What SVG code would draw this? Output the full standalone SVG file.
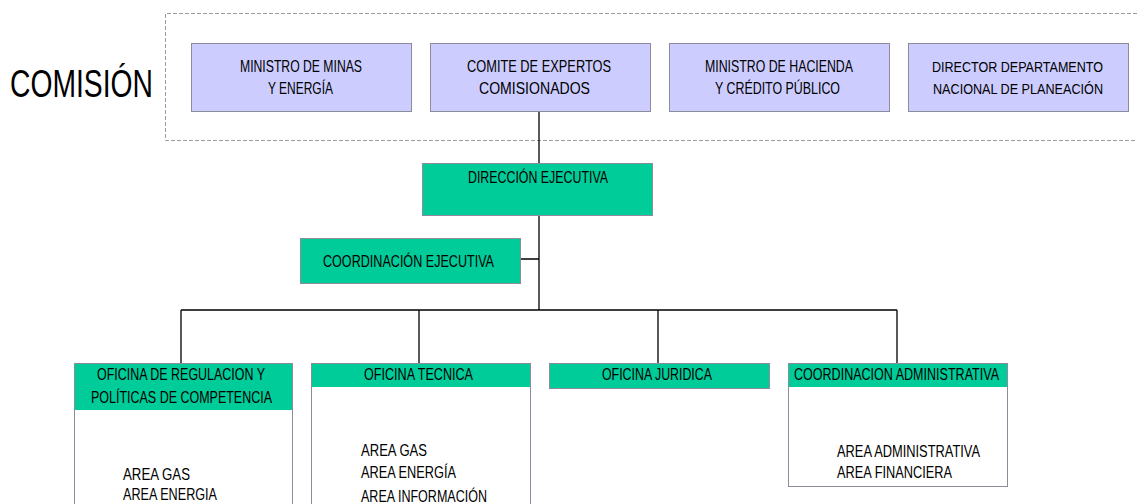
<svg xmlns="http://www.w3.org/2000/svg" width="1137" height="504" viewBox="0 0 1137 504">
<style>
text{font-family:"Liberation Sans",Arial,sans-serif;font-size:17px;fill:#000}
.s{font-size:15px}
.p{fill:#CCCCFF;stroke:#8c8c9c;stroke-width:1}
.g{fill:#00CC99;stroke:#8c8c9c;stroke-width:1}
.w{fill:#fff;stroke:#8c8c9c;stroke-width:1}
.c{fill:none;stroke:#000;stroke-width:1.3}
</style>
<rect width="1137" height="504" fill="#fff"/>
<path d="M1137 13.5H165.5V140.5H1137" fill="none" stroke="#9a9aa0" stroke-width="1" stroke-dasharray="4 2"/>
<text x="10" y="97" style="font-size:38px" textLength="143" lengthAdjust="spacingAndGlyphs">COMISIÓN</text>
<g id="connectors">
<path class="c" d="M539 111V310M520 259H539M181 310H897M181 310V363M419 310V363M658 310V363M897 310V363"/>
</g>
<g id="n1"><rect class="p" x="191.5" y="43.5" width="220" height="68"/>
<text x="240" y="72" textLength="122" lengthAdjust="spacingAndGlyphs">MINISTRO DE MINAS</text>
<text x="268" y="94" textLength="65" lengthAdjust="spacingAndGlyphs">Y ENERGÍA</text></g>
<g id="n2"><rect class="p" x="430.5" y="43.5" width="220" height="68"/>
<text x="467" y="72" textLength="144" lengthAdjust="spacingAndGlyphs">COMITE DE EXPERTOS</text>
<text x="479" y="94" textLength="111" lengthAdjust="spacingAndGlyphs">COMISIONADOS</text></g>
<g id="n3"><rect class="p" x="669.5" y="43.5" width="220" height="68"/>
<text x="705" y="72" textLength="148" lengthAdjust="spacingAndGlyphs">MINISTRO DE HACIENDA</text>
<text x="715" y="94" textLength="125" lengthAdjust="spacingAndGlyphs">Y CRÉDITO PÚBLICO</text></g>
<g id="n4"><rect class="p" x="908.5" y="43.5" width="220" height="68"/>
<text class="s" x="932" y="72" textLength="171" lengthAdjust="spacingAndGlyphs">DIRECTOR DEPARTAMENTO</text>
<text class="s" x="933" y="94" textLength="170" lengthAdjust="spacingAndGlyphs">NACIONAL DE PLANEACIÓN</text></g>
<g id="n5"><rect class="g" x="422.5" y="163.5" width="230" height="52"/>
<text x="468" y="183" textLength="140" lengthAdjust="spacingAndGlyphs">DIRECCIÓN EJECUTIVA</text></g>
<g id="n6"><rect class="g" x="300.5" y="238.5" width="220" height="45"/>
<text x="323" y="267" textLength="171" lengthAdjust="spacingAndGlyphs">COORDINACIÓN EJECUTIVA</text></g>
<g id="n7"><rect class="w" x="74.5" y="363.5" width="218" height="150"/>
<rect x="75" y="364" width="217" height="46" fill="#00CC99"/>
<text x="97" y="380" textLength="168" lengthAdjust="spacingAndGlyphs">OFICINA DE REGULACION Y</text>
<text x="91" y="403" textLength="181" lengthAdjust="spacingAndGlyphs">POLÍTICAS DE COMPETENCIA</text>
<text x="123" y="480" textLength="67" lengthAdjust="spacingAndGlyphs">AREA GAS</text>
<text x="123" y="500" textLength="94" lengthAdjust="spacingAndGlyphs">AREA ENERGIA</text></g>
<g id="n8"><rect class="w" x="311.5" y="363.5" width="219" height="150"/>
<rect x="312" y="364" width="218" height="23" fill="#00CC99"/>
<text x="364" y="380" textLength="109" lengthAdjust="spacingAndGlyphs">OFICINA TECNICA</text>
<text x="361" y="456" textLength="66" lengthAdjust="spacingAndGlyphs">AREA GAS</text>
<text x="361" y="478" textLength="95" lengthAdjust="spacingAndGlyphs">AREA ENERGÍA</text>
<text x="361" y="502" textLength="126" lengthAdjust="spacingAndGlyphs">AREA INFORMACIÓN</text></g>
<g id="n9"><rect class="g" x="549.5" y="363.5" width="220" height="25"/>
<text x="602" y="380" textLength="110" lengthAdjust="spacingAndGlyphs">OFICINA JURIDICA</text></g>
<g id="n10"><rect class="w" x="788.5" y="363.5" width="219" height="123"/>
<rect x="789" y="364" width="218" height="23" fill="#00CC99"/>
<text x="794" y="380" textLength="205" lengthAdjust="spacingAndGlyphs">COORDINACION ADMINISTRATIVA</text>
<text x="837" y="457" textLength="143" lengthAdjust="spacingAndGlyphs">AREA ADMINISTRATIVA</text>
<text x="837" y="478" textLength="115" lengthAdjust="spacingAndGlyphs">AREA FINANCIERA</text></g>
</svg>
